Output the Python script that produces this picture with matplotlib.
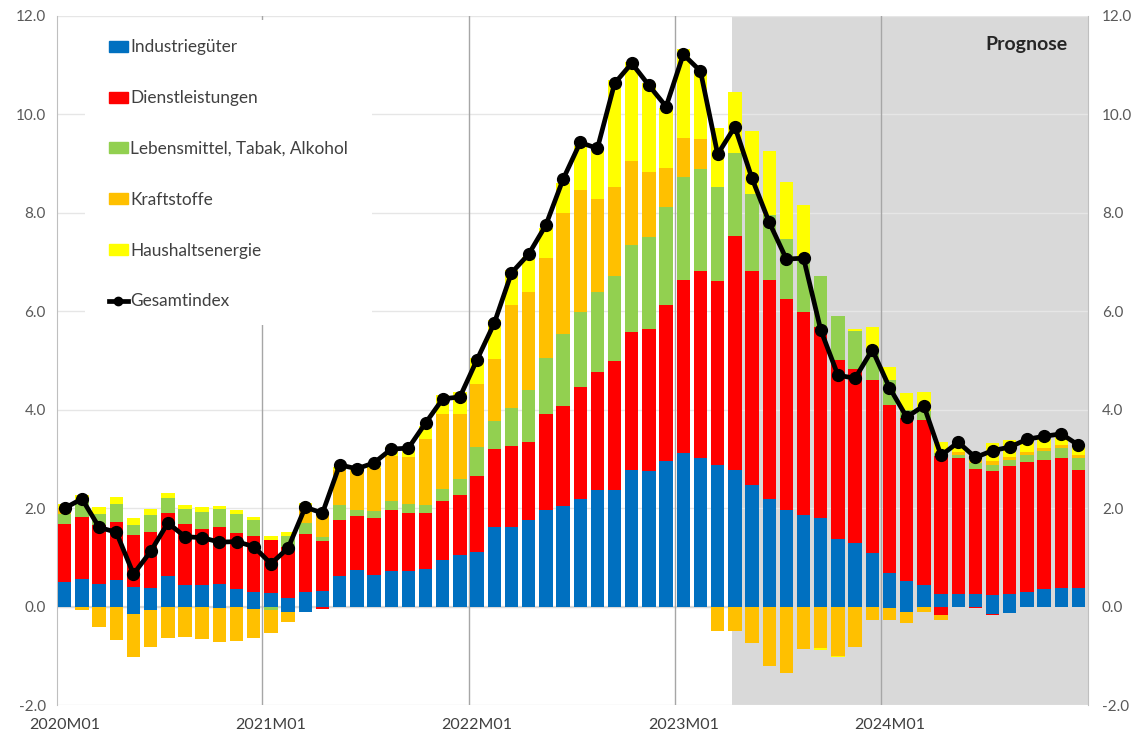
import numpy as np
import matplotlib
matplotlib.use("Agg")
import matplotlib.pyplot as plt
from matplotlib.patches import Rectangle, Patch
from matplotlib.lines import Line2D

plt.rcParams['font.family'] = ['Lato', 'DejaVu Sans']

# ---- data (contributions in percentage points) ----
months = [f"{y}M{m:02d}" for y in range(2020, 2025) for m in range(1, 13)]
tick_positions = [0, 12, 24, 36, 48]
tick_labels = ["2020M01", "2021M01", "2022M01", "2023M01", "2024M01"]

industriegueter = [0.50, 0.56, 0.45, 0.53, 0.40, 0.37, 0.62, 0.44, 0.44, 0.45, 0.36, 0.30,
                   0.28, 0.18, 0.29, 0.32, 0.62, 0.75, 0.64, 0.73, 0.73, 0.77, 0.94, 1.04,
                   1.10, 1.62, 1.61, 1.75, 1.96, 2.04, 2.19, 2.36, 2.36, 2.78, 2.75, 2.96,
                   3.12, 3.02, 2.87, 2.77, 2.48, 2.19, 1.96, 1.86, 1.79, 1.37, 1.29, 1.09,
                   0.68, 0.51, 0.43, 0.26, 0.26, 0.26, 0.24, 0.26, 0.30, 0.35, 0.37, 0.37]
industriegueter_neg = [0, 0, 0, 0, -0.15, -0.07, 0, 0, 0, -0.03, 0, -0.04,
                       0, -0.12, -0.11, 0, 0, 0, 0, 0, 0, 0, 0, 0,
                       0, 0, 0, 0, 0, 0, 0, 0, 0, 0, 0, 0,
                       0, 0, 0, 0, 0, 0, 0, 0, 0, 0, 0, 0,
                       -0.03, -0.12, 0, 0, 0, 0, -0.15, -0.14, 0, 0, 0, 0]
dienstleistungen = [1.18, 1.27, 1.20, 1.18, 1.05, 1.15, 1.28, 1.23, 1.13, 1.16, 1.14, 1.13,
                    1.07, 1.04, 1.19, 1.01, 1.13, 1.10, 1.16, 1.24, 1.17, 1.14, 1.20, 1.23,
                    1.55, 1.59, 1.66, 1.59, 1.95, 2.04, 2.28, 2.40, 2.62, 2.80, 2.88, 3.17,
                    3.51, 3.79, 3.74, 4.75, 4.33, 4.44, 4.29, 4.13, 3.90, 3.65, 3.54, 3.51,
                    3.42, 3.32, 3.37, 2.79, 2.75, 2.54, 2.52, 2.59, 2.63, 2.63, 2.64, 2.40]
dienstleistungen_neg = [0, 0, 0, 0, 0, 0, 0, 0, 0, 0, 0, 0,
                        0, 0, 0, -0.04, 0, 0, 0, 0, 0, 0, 0, 0,
                        0, 0, 0, 0, 0, 0, 0, 0, 0, 0, 0, 0,
                        0, 0, 0, 0, 0, 0, 0, 0, 0, 0, 0, 0,
                        0, 0, 0, -0.18, -0.01, -0.03, -0.02, 0, 0, 0, 0, 0]
lebensmittel = [0.20, 0.31, 0.24, 0.37, 0.20, 0.35, 0.31, 0.31, 0.36, 0.37, 0.39, 0.32,
                -0.06, 0.21, 0.22, 0.08, 0.31, 0.11, 0.14, 0.17, 0.19, 0.16, 0.25, 0.32,
                0.60, 0.57, 0.77, 1.07, 1.15, 1.46, 1.51, 1.63, 1.73, 1.77, 1.87, 1.99,
                2.09, 2.08, 1.91, 1.70, 1.57, 1.32, 1.22, 1.12, 1.03, 0.89, 0.76, 0.58,
                0.51, 0.17, 0.17, 0.08, 0.08, 0.12, 0.11, 0.12, 0.14, 0.19, 0.21, 0.25]
kraftstoffe = [0.12, -0.07, -0.42, -0.67, -0.87, -0.75, -0.63, -0.62, -0.66, -0.69, -0.70, -0.60,
               -0.47, -0.19, 0.30, 0.49, 0.72, 0.82, 0.88, 0.91, 0.95, 1.34, 1.53, 1.33,
               1.27, 1.26, 2.08, 1.98, 2.03, 2.45, 2.48, 1.89, 1.82, 1.71, 1.32, 0.79,
               0.80, 0.61, -0.50, -0.50, -0.75, -1.20, -1.34, -0.87, -0.85, -1.00, -0.82, -0.27,
               -0.25, -0.21, -0.11, -0.10, 0.06, 0.06, 0.08, 0.07, 0.07, 0.06, 0.06, 0.05]
haushaltsenergie = [0.09, 0.12, 0.14, 0.15, 0.14, 0.12, 0.10, 0.08, 0.09, 0.07, 0.07, 0.07,
                    0.09, 0.09, 0.11, 0.03, 0.06, 0.03, 0.04, 0.20, 0.21, 0.25, 0.37, 0.45,
                    0.53, 0.79, 0.72, 0.72, 0.60, 0.61, 0.89, 1.00, 2.17, 2.01, 1.81, 1.22,
                    1.80, 1.38, 1.21, 1.23, 1.28, 1.30, 1.15, 1.04, -0.04, -0.03, 0.05, 0.51,
                    0.25, 0.34, 0.38, 0.21, 0.17, 0.04, 0.37, 0.34, 0.25, 0.18, 0.18, 0.22]
gesamtindex = [2.00, 2.19, 1.61, 1.51, 0.66, 1.12, 1.70, 1.42, 1.40, 1.31, 1.32, 1.22,
               0.87, 1.19, 2.02, 1.90, 2.88, 2.80, 2.92, 3.20, 3.22, 3.73, 4.22, 4.26,
               5.02, 5.76, 6.78, 7.16, 7.75, 8.68, 9.43, 9.31, 10.63, 11.04, 10.59, 10.16,
               11.22, 10.88, 9.19, 9.75, 8.70, 7.81, 7.06, 7.08, 5.62, 4.70, 4.64, 5.22,
               4.45, 3.85, 4.08, 3.07, 3.34, 3.03, 3.17, 3.24, 3.40, 3.46, 3.51, 3.28]
forecast_start = 38.84

C_BLUE, C_RED, C_GREEN, C_ORANGE, C_YELLOW = "#0070C0", "#FF0000", "#92D050", "#FFC000", "#FFFF00"

series = [
    (industriegueter, C_BLUE),
    (industriegueter_neg, C_BLUE),
    (dienstleistungen, C_RED),
    (dienstleistungen_neg, C_RED),
    (lebensmittel, C_GREEN),
    (kraftstoffe, C_ORANGE),
    (haushaltsenergie, C_YELLOW),
]

fig = plt.figure(figsize=(11.38, 7.37), dpi=100)
ax = fig.add_axes([0.0501, 0.0434, 0.9059, 0.9349])

x = np.arange(len(months))
ax.set_xlim(-0.45, len(months) - 0.45)
ax.set_ylim(-2, 12)

# forecast shading
ax.axvspan(forecast_start, len(months) - 0.45, color="#D9D9D9", zorder=0, lw=0)

# gridlines
for yv in np.arange(-2, 12.1, 2):
    ax.axhline(yv, color="#E6E6E6", lw=1.0, zorder=1)
ax.axhline(0, color="#D9D9D9", lw=1.6, zorder=1)
for xv in [11.5, 23.5, 35.5, 47.5]:
    ax.axvline(xv, color="#A6A6A6", lw=1.0, zorder=1)

pos_base = np.zeros(len(months))
neg_base = np.zeros(len(months))
for vals, col in series:
    v = np.array(vals, dtype=float)
    bottom = np.where(v >= 0, pos_base, neg_base)
    ax.bar(x, v, bottom=bottom, width=0.78, color=col, linewidth=0, zorder=3)
    pos_base += np.clip(v, 0, None)
    neg_base += np.clip(v, None, 0)

ax.plot(x, gesamtindex, color="black", lw=3.4, marker="o", ms=8.5, zorder=5)

# axes styling
for s in ["top", "bottom"]:
    ax.spines[s].set_visible(False)
ax.spines["left"].set_color("#BFBFBF")
ax.spines["right"].set_color("#BFBFBF")
ax.set_yticks(np.arange(-2, 12.1, 2))
ax.set_yticklabels([f"{v:.1f}" for v in np.arange(-2, 12.1, 2)])
ax.tick_params(axis="y", length=0, labelsize=11, labelcolor="#595959", pad=8)
ax.set_xticks(tick_positions)
ax.set_xticklabels(tick_labels)
ax.tick_params(axis="x", length=0, labelsize=11.5, labelcolor="#404040", pad=9)

ax2 = ax.twinx()
ax2.set_ylim(-2, 12)
ax2.set_yticks(np.arange(-2, 12.1, 2))
ax2.set_yticklabels([f"{v:.1f}" for v in np.arange(-2, 12.1, 2)])
ax2.tick_params(axis="y", length=0, labelsize=11, labelcolor="#595959", pad=10)
for s in ["top", "bottom", "left", "right"]:
    ax2.spines[s].set_visible(False)

# white legend area
ax.add_patch(Rectangle((0.027, 0.5515), 0.279, 0.443, transform=ax.transAxes,
                       facecolor="white", edgecolor="none", zorder=6))

handles = [Patch(color=C_BLUE), Patch(color=C_RED), Patch(color=C_GREEN),
           Patch(color=C_ORANGE), Patch(color=C_YELLOW),
           Line2D([], [], color="black", lw=3.4, marker="o", ms=6)]
labels = ["Industriegüter", "Dienstleistungen", "Lebensmittel, Tabak, Alkohol",
          "Kraftstoffe", "Haushaltsenergie", "Gesamtindex"]
leg = ax.legend(handles, labels, loc="upper left", bbox_to_anchor=(0.05, 0.966),
                frameon=False, fontsize=12.4, labelspacing=2.02, handlelength=1.1,
                handleheight=0.6, handletextpad=0.15, borderpad=0, borderaxespad=0)
leg.set_zorder(7)
for t in leg.get_texts():
    t.set_color("#404040")

ax.text(0.98, 0.958, "Prognose", transform=ax.transAxes, ha="right", va="center",
        fontsize=14, fontweight="bold", color="#262626", zorder=7)

fig.savefig("out.png", dpi=100)
